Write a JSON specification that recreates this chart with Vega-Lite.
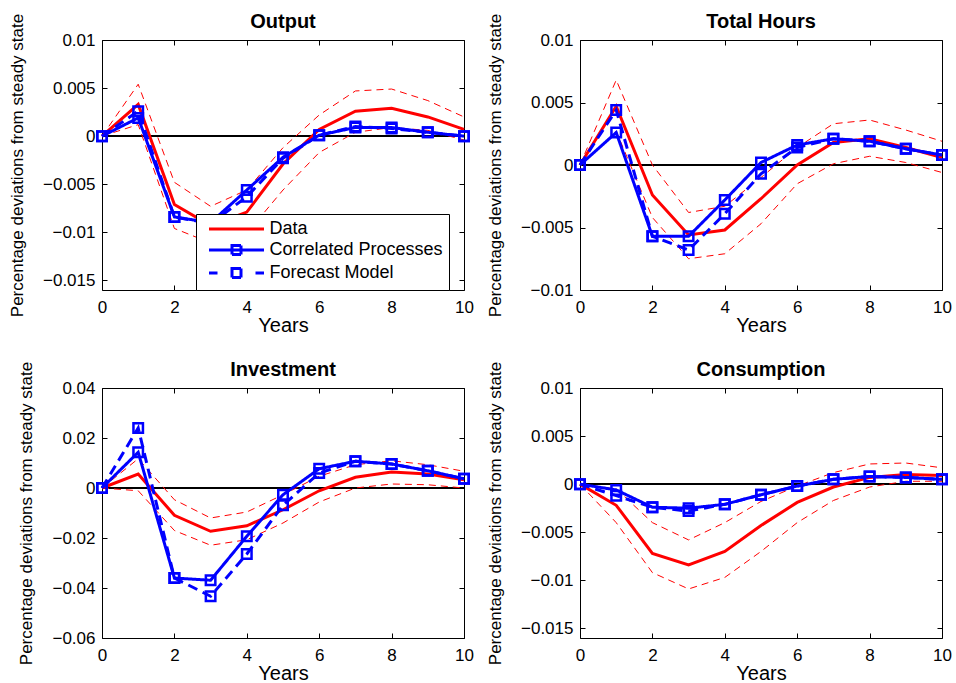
{
  "$schema": "https://vega.github.io/schema/vega-lite/v6.json",
  "data": {"values": [
    {"p":"Output","x":0,"Data":0,"Upper":0,"Lower":0,"Correlated Processes":0,"Forecast Model":0},
    {"p":"Output","x":1,"Data":0.0033,"Upper":0.0054,"Lower":0.0012,"Correlated Processes":0.0019,"Forecast Model":0.0026},
    {"p":"Output","x":2,"Data":-0.0071,"Upper":-0.0048,"Lower":-0.0096,"Correlated Processes":-0.0084,"Forecast Model":-0.0084},
    {"p":"Output","x":3,"Data":-0.0093,"Upper":-0.0073,"Lower":-0.0111,"Correlated Processes":-0.0090,"Forecast Model":-0.0091},
    {"p":"Output","x":4,"Data":-0.0079,"Upper":-0.0056,"Lower":-0.0101,"Correlated Processes":-0.0056,"Forecast Model":-0.0063},
    {"p":"Output","x":5,"Data":-0.0029,"Upper":-0.0012,"Lower":-0.0056,"Correlated Processes":-0.0022,"Forecast Model":-0.0023},
    {"p":"Output","x":6,"Data":0.0007,"Upper":0.0022,"Lower":-0.0017,"Correlated Processes":0.0001,"Forecast Model":0.0001},
    {"p":"Output","x":7,"Data":0.0026,"Upper":0.0047,"Lower":0.0004,"Correlated Processes":0.0009,"Forecast Model":0.0010},
    {"p":"Output","x":8,"Data":0.0029,"Upper":0.0049,"Lower":0.0009,"Correlated Processes":0.0009,"Forecast Model":0.0008},
    {"p":"Output","x":9,"Data":0.0020,"Upper":0.0037,"Lower":0.0006,"Correlated Processes":0.0004,"Forecast Model":0.0004},
    {"p":"Output","x":10,"Data":0.0007,"Upper":0.0020,"Lower":-0.0004,"Correlated Processes":0.0000,"Forecast Model":0.0000},
    {"p":"Total Hours","x":0,"Data":0,"Upper":0,"Lower":0,"Correlated Processes":0,"Forecast Model":0},
    {"p":"Total Hours","x":1,"Data":0.0047,"Upper":0.0068,"Lower":0.0027,"Correlated Processes":0.0026,"Forecast Model":0.0044},
    {"p":"Total Hours","x":2,"Data":-0.0024,"Upper":0.0000,"Lower":-0.0042,"Correlated Processes":-0.0057,"Forecast Model":-0.0057},
    {"p":"Total Hours","x":3,"Data":-0.0056,"Upper":-0.0038,"Lower":-0.0075,"Correlated Processes":-0.0057,"Forecast Model":-0.0068},
    {"p":"Total Hours","x":4,"Data":-0.0052,"Upper":-0.0033,"Lower":-0.0071,"Correlated Processes":-0.0028,"Forecast Model":-0.0039},
    {"p":"Total Hours","x":5,"Data":-0.0027,"Upper":-0.0010,"Lower":-0.0047,"Correlated Processes":0.0002,"Forecast Model":-0.0007},
    {"p":"Total Hours","x":6,"Data":0.0000,"Upper":0.0014,"Lower":-0.0015,"Correlated Processes":0.0016,"Forecast Model":0.0014},
    {"p":"Total Hours","x":7,"Data":0.0018,"Upper":0.0033,"Lower":0.0001,"Correlated Processes":0.0021,"Forecast Model":0.0021},
    {"p":"Total Hours","x":8,"Data":0.0021,"Upper":0.0036,"Lower":0.0007,"Correlated Processes":0.0019,"Forecast Model":0.0019},
    {"p":"Total Hours","x":9,"Data":0.0014,"Upper":0.0028,"Lower":0.0002,"Correlated Processes":0.0013,"Forecast Model":0.0013},
    {"p":"Total Hours","x":10,"Data":0.0006,"Upper":0.0019,"Lower":-0.0006,"Correlated Processes":0.0008,"Forecast Model":0.0008},
    {"p":"Investment","x":0,"Data":0,"Upper":0,"Lower":0,"Correlated Processes":0,"Forecast Model":0},
    {"p":"Investment","x":1,"Data":0.0056,"Upper":0.0117,"Lower":-0.0011,"Correlated Processes":0.0143,"Forecast Model":0.0240},
    {"p":"Investment","x":2,"Data":-0.0109,"Upper":-0.0047,"Lower":-0.0170,"Correlated Processes":-0.0360,"Forecast Model":-0.0360},
    {"p":"Investment","x":3,"Data":-0.0173,"Upper":-0.0120,"Lower":-0.0229,"Correlated Processes":-0.0369,"Forecast Model":-0.0433},
    {"p":"Investment","x":4,"Data":-0.0151,"Upper":-0.0096,"Lower":-0.0207,"Correlated Processes":-0.0193,"Forecast Model":-0.0264},
    {"p":"Investment","x":5,"Data":-0.0087,"Upper":-0.0027,"Lower":-0.0140,"Correlated Processes":-0.0027,"Forecast Model":-0.0069},
    {"p":"Investment","x":6,"Data":-0.0011,"Upper":0.0047,"Lower":-0.0056,"Correlated Processes":0.0077,"Forecast Model":0.0060},
    {"p":"Investment","x":7,"Data":0.0043,"Upper":0.0093,"Lower":0.0000,"Correlated Processes":0.0107,"Forecast Model":0.0107},
    {"p":"Investment","x":8,"Data":0.0064,"Upper":0.0109,"Lower":0.0016,"Correlated Processes":0.0096,"Forecast Model":0.0096},
    {"p":"Investment","x":9,"Data":0.0056,"Upper":0.0093,"Lower":0.0013,"Correlated Processes":0.0069,"Forecast Model":0.0069},
    {"p":"Investment","x":10,"Data":0.0033,"Upper":0.0067,"Lower":0.0000,"Correlated Processes":0.0037,"Forecast Model":0.0037},
    {"p":"Consumption","x":0,"Data":0,"Upper":0,"Lower":0,"Correlated Processes":0,"Forecast Model":0},
    {"p":"Consumption","x":1,"Data":-0.0022,"Upper":-0.0005,"Lower":-0.0040,"Correlated Processes":-0.0006,"Forecast Model":-0.0012},
    {"p":"Consumption","x":2,"Data":-0.0072,"Upper":-0.0040,"Lower":-0.0092,"Correlated Processes":-0.0024,"Forecast Model":-0.0024},
    {"p":"Consumption","x":3,"Data":-0.0084,"Upper":-0.0058,"Lower":-0.0109,"Correlated Processes":-0.0025,"Forecast Model":-0.0028},
    {"p":"Consumption","x":4,"Data":-0.0070,"Upper":-0.0040,"Lower":-0.0097,"Correlated Processes":-0.0021,"Forecast Model":-0.0021},
    {"p":"Consumption","x":5,"Data":-0.0043,"Upper":-0.0018,"Lower":-0.0070,"Correlated Processes":-0.0011,"Forecast Model":-0.0011},
    {"p":"Consumption","x":6,"Data":-0.0019,"Upper":-0.0002,"Lower":-0.0040,"Correlated Processes":-0.0002,"Forecast Model":-0.0002},
    {"p":"Consumption","x":7,"Data":-0.0003,"Upper":0.0012,"Lower":-0.0017,"Correlated Processes":0.0005,"Forecast Model":0.0005},
    {"p":"Consumption","x":8,"Data":0.0007,"Upper":0.0021,"Lower":-0.0003,"Correlated Processes":0.0008,"Forecast Model":0.0008},
    {"p":"Consumption","x":9,"Data":0.0010,"Upper":0.0022,"Lower":0.0003,"Correlated Processes":0.0007,"Forecast Model":0.0007},
    {"p":"Consumption","x":10,"Data":0.0009,"Upper":0.0017,"Lower":0.0003,"Correlated Processes":0.0005,"Forecast Model":0.0005}
  ]},
  "transform": [{"fold": ["Data","Upper","Lower","Correlated Processes","Forecast Model"], "as": ["s","v"]}],
  "columns": 2,
  "spacing": {"row": 98, "column": 116},
  "bounds": "flush",
  "padding": {"left": 8, "top": 11, "right": 5, "bottom": 5},
  "concat": [
    {
      "title": "Output",
      "width": 362, "height": 250,
      "transform": [{"filter": "datum.p === 'Output'"}],
      "resolve": {"axis": {"x": "independent", "y": "independent"}},
      "layer": [
        {"mark": {"type": "rule", "color": "black", "strokeWidth": 0.8}, "encoding": {"y": {"datum": 0, "type": "quantitative", "axis": null}}},
        {"transform": [{"filter": "datum.s === 'Upper' || datum.s === 'Lower'"}],
         "mark": {"type": "line", "color": "#ff0000", "strokeWidth": 1, "strokeDash": [7,5]},
         "encoding": {
           "x": {"field": "x", "type": "quantitative", "axis": {"orient": "top", "labels": false, "title": null, "values": [0,2,4,6,8,10]}},
           "y": {"field": "v", "type": "quantitative", "axis": {"orient": "right", "labels": false, "title": null, "values": [-0.015,-0.01,-0.005,0,0.005,0.01]}},
           "detail": {"field": "s"}}},
        {"transform": [{"filter": "datum.s === 'Data'"}],
         "mark": {"type": "line", "strokeWidth": 3},
         "encoding": {
           "x": {"field": "x", "type": "quantitative", "scale": {"domain": [0,10]}, "axis": {"title": "Years", "values": [0,2,4,6,8,10]}},
           "y": {"field": "v", "type": "quantitative", "scale": {"domain": [-0.015,0.01]}, "axis": {"title": "Percentage deviations from steady state", "values": [-0.015,-0.01,-0.005,0,0.005,0.01], "format": "~g"}},
           "color": {"field": "s", "type": "nominal", "scale": {"domain": ["Data","Correlated Processes","Forecast Model"], "range": ["#ff0000","#0000ff","#0000ff"]},
             "legend": {"title": null, "orient": "none", "legendX": 94, "legendY": 174, "labelFontSize": 18, "labelLimit": 400, "labelColor": "black", "strokeColor": "black", "fillColor": "white", "padding": 6, "rowPadding": 1, "symbolSize": 100, "symbolOffset": 25.5, "labelOffset": 24,
               "encode": {"symbols": {"update": {
                 "shape": {"signal": "datum.value === 'Data' ? 'M-5.5,0H5.5' : datum.value === 'Correlated Processes' ? 'M-5.5,0H5.5M-0.9,-0.9H0.9V0.9H-0.9Z' : 'M-5.5,0H-3.8M3.8,0H5.5M-0.9,-0.9H0.9V0.9H-0.9Z'"},
                 "fill": {"value": "transparent"}, "strokeDash": {"value": [1,0]}, "strokeWidth": {"value": 3}, "opacity": {"value": 1}}}}}}}},
        {"transform": [{"filter": "datum.s === 'Correlated Processes' || datum.s === 'Forecast Model'"}],
         "mark": {"type": "line", "strokeWidth": 3},
         "encoding": {
           "x": {"field": "x", "type": "quantitative", "axis": null},
           "y": {"field": "v", "type": "quantitative", "axis": null},
           "color": {"field": "s", "type": "nominal"},
           "strokeDash": {"field": "s", "type": "nominal", "scale": {"domain": ["Correlated Processes","Forecast Model"], "range": [[1,0],[10,6]]}, "legend": null}}},
        {"transform": [{"filter": "datum.s === 'Correlated Processes' || datum.s === 'Forecast Model'"}],
         "mark": {"type": "point", "shape": "square", "filled": false, "size": 90, "strokeWidth": 2.5, "color": "#0000ff", "opacity": 1},
         "encoding": {
           "x": {"field": "x", "type": "quantitative", "axis": null},
           "y": {"field": "v", "type": "quantitative", "axis": null}}}
      ]
    },
    {
      "title": "Total Hours",
      "width": 362, "height": 250,
      "transform": [{"filter": "datum.p === 'Total Hours'"}],
      "resolve": {"axis": {"x": "independent", "y": "independent"}},
      "layer": [
        {"mark": {"type": "rule", "color": "black", "strokeWidth": 0.8}, "encoding": {"y": {"datum": 0, "type": "quantitative", "axis": null}}},
        {"transform": [{"filter": "datum.s === 'Upper' || datum.s === 'Lower'"}],
         "mark": {"type": "line", "color": "#ff0000", "strokeWidth": 1, "strokeDash": [7,5]},
         "encoding": {
           "x": {"field": "x", "type": "quantitative", "axis": {"orient": "top", "labels": false, "title": null, "values": [0,2,4,6,8,10]}},
           "y": {"field": "v", "type": "quantitative", "axis": {"orient": "right", "labels": false, "title": null, "values": [-0.01,-0.005,0,0.005,0.01]}},
           "detail": {"field": "s"}}},
        {"transform": [{"filter": "datum.s === 'Data'"}],
         "mark": {"type": "line", "strokeWidth": 3},
         "encoding": {
           "x": {"field": "x", "type": "quantitative", "scale": {"domain": [0,10]}, "axis": {"title": "Years", "values": [0,2,4,6,8,10]}},
           "y": {"field": "v", "type": "quantitative", "scale": {"domain": [-0.01,0.01]}, "axis": {"title": "Percentage deviations from steady state", "values": [-0.01,-0.005,0,0.005,0.01], "format": "~g"}},
           "color": {"field": "s", "type": "nominal", "scale": {"domain": ["Data","Correlated Processes","Forecast Model"], "range": ["#ff0000","#0000ff","#0000ff"]}, "legend": null}}},
        {"transform": [{"filter": "datum.s === 'Correlated Processes' || datum.s === 'Forecast Model'"}],
         "mark": {"type": "line", "strokeWidth": 3},
         "encoding": {
           "x": {"field": "x", "type": "quantitative", "axis": null},
           "y": {"field": "v", "type": "quantitative", "axis": null},
           "color": {"field": "s", "type": "nominal", "legend": null},
           "strokeDash": {"field": "s", "type": "nominal", "scale": {"domain": ["Correlated Processes","Forecast Model"], "range": [[1,0],[10,6]]}, "legend": null}}},
        {"transform": [{"filter": "datum.s === 'Correlated Processes' || datum.s === 'Forecast Model'"}],
         "mark": {"type": "point", "shape": "square", "filled": false, "size": 90, "strokeWidth": 2.5, "color": "#0000ff", "opacity": 1},
         "encoding": {
           "x": {"field": "x", "type": "quantitative", "axis": null},
           "y": {"field": "v", "type": "quantitative", "axis": null}}}
      ]
    },
    {
      "title": "Investment",
      "width": 362, "height": 250,
      "transform": [{"filter": "datum.p === 'Investment'"}],
      "resolve": {"axis": {"x": "independent", "y": "independent"}},
      "layer": [
        {"mark": {"type": "rule", "color": "black", "strokeWidth": 0.8}, "encoding": {"y": {"datum": 0, "type": "quantitative", "axis": null}}},
        {"transform": [{"filter": "datum.s === 'Upper' || datum.s === 'Lower'"}],
         "mark": {"type": "line", "color": "#ff0000", "strokeWidth": 1, "strokeDash": [7,5]},
         "encoding": {
           "x": {"field": "x", "type": "quantitative", "axis": {"orient": "top", "labels": false, "title": null, "values": [0,2,4,6,8,10]}},
           "y": {"field": "v", "type": "quantitative", "axis": {"orient": "right", "labels": false, "title": null, "values": [-0.06,-0.04,-0.02,0,0.02,0.04]}},
           "detail": {"field": "s"}}},
        {"transform": [{"filter": "datum.s === 'Data'"}],
         "mark": {"type": "line", "strokeWidth": 3},
         "encoding": {
           "x": {"field": "x", "type": "quantitative", "scale": {"domain": [0,10]}, "axis": {"title": "Years", "values": [0,2,4,6,8,10]}},
           "y": {"field": "v", "type": "quantitative", "scale": {"domain": [-0.06,0.04]}, "axis": {"title": "Percentage deviations from steady state", "values": [-0.06,-0.04,-0.02,0,0.02,0.04], "format": "~g"}},
           "color": {"field": "s", "type": "nominal", "scale": {"domain": ["Data","Correlated Processes","Forecast Model"], "range": ["#ff0000","#0000ff","#0000ff"]}, "legend": null}}},
        {"transform": [{"filter": "datum.s === 'Correlated Processes' || datum.s === 'Forecast Model'"}],
         "mark": {"type": "line", "strokeWidth": 3},
         "encoding": {
           "x": {"field": "x", "type": "quantitative", "axis": null},
           "y": {"field": "v", "type": "quantitative", "axis": null},
           "color": {"field": "s", "type": "nominal", "legend": null},
           "strokeDash": {"field": "s", "type": "nominal", "scale": {"domain": ["Correlated Processes","Forecast Model"], "range": [[1,0],[10,6]]}, "legend": null}}},
        {"transform": [{"filter": "datum.s === 'Correlated Processes' || datum.s === 'Forecast Model'"}],
         "mark": {"type": "point", "shape": "square", "filled": false, "size": 90, "strokeWidth": 2.5, "color": "#0000ff", "opacity": 1},
         "encoding": {
           "x": {"field": "x", "type": "quantitative", "axis": null},
           "y": {"field": "v", "type": "quantitative", "axis": null}}}
      ]
    },
    {
      "title": "Consumption",
      "width": 362, "height": 250,
      "transform": [{"filter": "datum.p === 'Consumption'"}],
      "resolve": {"axis": {"x": "independent", "y": "independent"}},
      "layer": [
        {"mark": {"type": "rule", "color": "black", "strokeWidth": 0.8}, "encoding": {"y": {"datum": 0, "type": "quantitative", "axis": null}}},
        {"transform": [{"filter": "datum.s === 'Upper' || datum.s === 'Lower'"}],
         "mark": {"type": "line", "color": "#ff0000", "strokeWidth": 1, "strokeDash": [7,5]},
         "encoding": {
           "x": {"field": "x", "type": "quantitative", "axis": {"orient": "top", "labels": false, "title": null, "values": [0,2,4,6,8,10]}},
           "y": {"field": "v", "type": "quantitative", "axis": {"orient": "right", "labels": false, "title": null, "values": [-0.015,-0.01,-0.005,0,0.005,0.01]}},
           "detail": {"field": "s"}}},
        {"transform": [{"filter": "datum.s === 'Data'"}],
         "mark": {"type": "line", "strokeWidth": 3},
         "encoding": {
           "x": {"field": "x", "type": "quantitative", "scale": {"domain": [0,10]}, "axis": {"title": "Years", "values": [0,2,4,6,8,10]}},
           "y": {"field": "v", "type": "quantitative", "scale": {"domain": [-0.015,0.01]}, "axis": {"title": "Percentage deviations from steady state", "values": [-0.015,-0.01,-0.005,0,0.005,0.01], "format": "~g"}},
           "color": {"field": "s", "type": "nominal", "scale": {"domain": ["Data","Correlated Processes","Forecast Model"], "range": ["#ff0000","#0000ff","#0000ff"]}, "legend": null}}},
        {"transform": [{"filter": "datum.s === 'Correlated Processes' || datum.s === 'Forecast Model'"}],
         "mark": {"type": "line", "strokeWidth": 3},
         "encoding": {
           "x": {"field": "x", "type": "quantitative", "axis": null},
           "y": {"field": "v", "type": "quantitative", "axis": null},
           "color": {"field": "s", "type": "nominal", "legend": null},
           "strokeDash": {"field": "s", "type": "nominal", "scale": {"domain": ["Correlated Processes","Forecast Model"], "range": [[1,0],[10,6]]}, "legend": null}}},
        {"transform": [{"filter": "datum.s === 'Correlated Processes' || datum.s === 'Forecast Model'"}],
         "mark": {"type": "point", "shape": "square", "filled": false, "size": 90, "strokeWidth": 2.5, "color": "#0000ff", "opacity": 1},
         "encoding": {
           "x": {"field": "x", "type": "quantitative", "axis": null},
           "y": {"field": "v", "type": "quantitative", "axis": null}}}
      ]
    }
  ],
  "config": {
    "font": "Liberation Sans",
    "background": "white",
    "view": {"stroke": "black", "strokeWidth": 1},
    "axis": {"grid": false, "domain": false, "tickSize": -5, "tickColor": "black", "tickWidth": 1, "labelColor": "black", "labelFontSize": 17, "titleColor": "black", "titleFontWeight": "normal", "labelFlush": false, "labelOverlap": false, "minExtent": 0},
    "axisX": {"labelPadding": 14, "titleFontSize": 20, "titlePadding": 0},
    "axisY": {"labelPadding": 12, "titleFontSize": 17, "titlePadding": 16},
    "title": {"fontSize": 20, "fontWeight": "bold", "anchor": "middle", "offset": -19, "color": "black", "frame": "group"}
  }
}
